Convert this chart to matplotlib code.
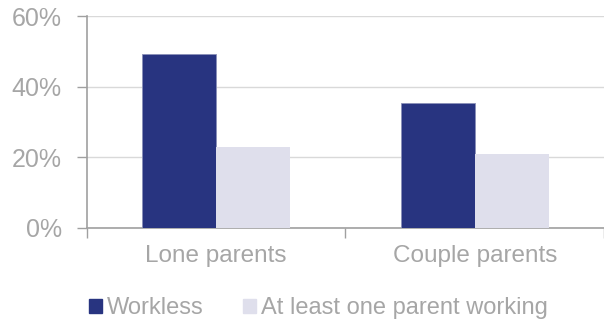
import numpy as np
import matplotlib.pyplot as plt
from matplotlib.patches import Patch

plt.rcParams['font.family'] = ['Liberation Sans', 'DejaVu Sans']

categories = ['Lone parents', 'Couple parents']
workless = [49.2, 35.5]
working = [23.0, 21.0]
series_names = ['Workless', 'At least one parent working']

dark = '#283480'
light = '#dfdfec'
grey_text = '#a6a6a6'
axis_grey = '#a0a0a0'

fig = plt.figure(figsize=(6.04, 3.22), dpi=100)
ax = fig.add_axes([0.144, 0.292, 0.856, 0.658])

x = np.arange(len(categories))
w = 0.286
ax.bar(x - w / 2, workless, width=w, color=dark, edgecolor='#8a90b8', linewidth=0.6, zorder=3)
ax.bar(x + w / 2, working, width=w, color=light, zorder=3)

ax.set_xlim(-0.5, len(categories) - 0.5)
ax.set_ylim(0, 60)
ax.set_yticks([0, 20, 40, 60])
ax.set_yticklabels(['0%', '20%', '40%', '60%'], fontsize=18, color=grey_text)
ax.yaxis.grid(True, color='#d9d9d9', linewidth=1, zorder=0)

# category separators as ticks, labels centered
ax.set_xticks(np.arange(-0.5, len(categories), 1.0))
ax.set_xticklabels([])
ax.set_xticks(x, minor=True)
ax.set_xticklabels(categories, minor=True, fontsize=17.5, color=grey_text)
ax.tick_params(axis='x', which='minor', length=0, pad=12)
ax.tick_params(axis='x', which='major', length=7, color=axis_grey, width=1)
ax.tick_params(axis='y', length=7, color=axis_grey, width=1, pad=11)

for side in ['top', 'right']:
    ax.spines[side].set_visible(False)
ax.spines['left'].set_color(axis_grey)
ax.spines['bottom'].set_color(axis_grey)
ax.spines['left'].set_linewidth(1.2)
ax.spines['bottom'].set_linewidth(1.2)

handles = [Patch(color=dark), Patch(color=light)]
fig.legend(handles, series_names, loc='center left', bbox_to_anchor=(0.147, 0.042),
           ncol=2, frameon=False, fontsize=17, labelcolor=grey_text, borderpad=0,
           borderaxespad=0, handlelength=0.55, handleheight=0.55, handletextpad=0.22,
           columnspacing=1.65)

fig.savefig('out.png', dpi=100)
